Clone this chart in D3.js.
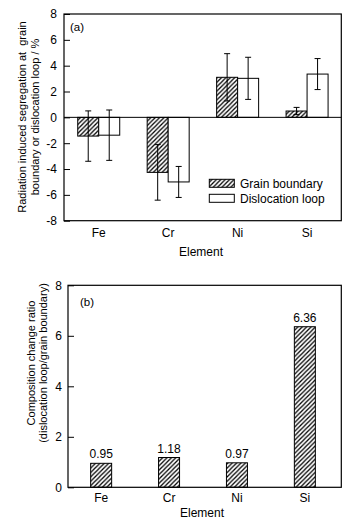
<!DOCTYPE html>
<html><head><meta charset="utf-8">
<script src="https://cdn.jsdelivr.net/npm/d3@7"></script>
<style>body{margin:0;background:#fff}svg{display:block}text{font-family:"Liberation Sans",Arial,sans-serif;fill:#000}</style>
</head><body>
<script>
const elements = ["Fe", "Cr", "Ni", "Si"];
const series = ["Grain boundary", "Dislocation loop"];
const grainBoundary = [-1.45, -4.26, 3.10, 0.49];
const grainBoundaryErr = [1.95, 2.15, 1.83, 0.28];
const dislocationLoop = [-1.38, -5.00, 3.02, 3.35];
const dislocationLoopErr = [1.95, 1.20, 1.63, 1.20];
const ratio = [0.95, 1.18, 0.97, 6.36];
const ratioLabels = ["0.95", "1.18", "0.97", "6.36"];
const ticksA = [-8, -6, -4, -2, 0, 2, 4, 6, 8];
const ticksB = [0, 2, 4, 6, 8];

const W = 359, H = 532;
const FS = 12;
const svg = d3.select("body").append("svg").attr("width", W).attr("height", H);
const defs = svg.append("defs");
const pat = defs.append("pattern").attr("id", "hatch").attr("patternUnits", "userSpaceOnUse")
  .attr("width", 4.4).attr("height", 4.4);
pat.append("rect").attr("width", 4.4).attr("height", 4.4).attr("fill", "#fff");
pat.append("path").attr("d", "M-1,5.4 L5.4,-1 M-1,1 L1,-1 M3.4,5.4 L5.4,3.4")
  .attr("stroke", "#000").attr("stroke-width", 1.25);

const fmt = d => String(d);

// ---------- Panel (a) ----------
const A = {l: 64, r: 341.3, t: 14, b: 220.7};
const xA = d3.scaleBand().domain(elements).range([A.l, A.r + 0.5]);
const bw = 21;
const xS = d3.scaleOrdinal().domain(series).range([-bw, 0]);
const yA = d3.scaleLinear().domain([-8, 8]).range([A.b, A.t]);
const gA = svg.append("g");

const dataA = [];
elements.forEach((e, i) => {
  dataA.push({e, s: series[0], v: grainBoundary[i], err: grainBoundaryErr[i]});
  dataA.push({e, s: series[1], v: dislocationLoop[i], err: dislocationLoopErr[i]});
});
const fillFor = s => s === series[0] ? "url(#hatch)" : "#fff";

gA.selectAll("rect.bar").data(dataA).join("rect").attr("class", "bar")
  .attr("x", d => xA(d.e) + xA.bandwidth() / 2 + xS(d.s))
  .attr("width", bw)
  .attr("y", d => yA(Math.max(0, d.v)))
  .attr("height", d => Math.abs(yA(d.v) - yA(0)))
  .attr("fill", d => fillFor(d.s)).attr("stroke", "#000").attr("stroke-width", 1);

gA.append("line").attr("x1", A.l).attr("x2", A.r).attr("y1", yA(0)).attr("y2", yA(0))
  .attr("stroke", "#000").attr("stroke-width", 1);

const eb = gA.selectAll("g.err").data(dataA).join("g").attr("class", "err")
  .attr("transform", d => `translate(${xA(d.e) + xA.bandwidth() / 2 + xS(d.s) + bw / 2},0)`);
eb.append("line").attr("y1", d => yA(d.v + d.err)).attr("y2", d => yA(d.v - d.err))
  .attr("stroke", "#000").attr("stroke-width", 1);
eb.append("line").attr("x1", -3).attr("x2", 3).attr("y1", d => yA(d.v + d.err)).attr("y2", d => yA(d.v + d.err))
  .attr("stroke", "#000").attr("stroke-width", 1);
eb.append("line").attr("x1", -3).attr("x2", 3).attr("y1", d => yA(d.v - d.err)).attr("y2", d => yA(d.v - d.err))
  .attr("stroke", "#000").attr("stroke-width", 1);

gA.append("rect").attr("x", A.l).attr("y", A.t).attr("width", A.r - A.l).attr("height", A.b - A.t)
  .attr("fill", "none").attr("stroke", "#000").attr("stroke-width", 1.2);

const axA = gA.append("g").attr("transform", `translate(${A.l},0)`)
  .call(d3.axisLeft(yA).tickValues(ticksA).tickFormat(fmt).tickSizeInner(-6).tickSizeOuter(0).tickPadding(7));
axA.select(".domain").remove();
axA.selectAll("line").attr("stroke", "#000");
axA.selectAll("text").attr("font-size", FS).attr("font-family", "Liberation Sans, Arial, sans-serif");

const xaxA = gA.append("g").attr("transform", `translate(0,${A.b})`)
  .call(d3.axisBottom(xA).tickSize(0).tickPadding(8));
xaxA.select(".domain").remove();
xaxA.selectAll("text").attr("font-size", FS).attr("font-family", "Liberation Sans, Arial, sans-serif");

gA.append("text").attr("x", 201).attr("y", 256).attr("text-anchor", "middle").attr("font-size", FS).text("Element");
gA.append("text").attr("x", 70).attr("y", 31).attr("font-size", 11.5).text("(a)");

const ylA = gA.append("text").attr("transform", "translate(0,117) rotate(-90)").attr("text-anchor", "middle").attr("font-size", 11);
ylA.append("tspan").attr("x", 0).attr("y", 26).text("Radiation induced segregation at\u00a0 grain");
ylA.append("tspan").attr("x", 0).attr("y", 39).text("boundary or dislocation loop / %");

const leg = gA.append("g");
series.forEach((s, i) => {
  const y0 = 179.3 + i * 15;
  leg.append("rect").attr("x", 209.3).attr("y", y0).attr("width", 25).attr("height", 8)
    .attr("fill", fillFor(s)).attr("stroke", "#000").attr("stroke-width", 1);
  leg.append("text").attr("x", 240).attr("y", y0 + 8.3).attr("font-size", FS).text(s);
});

// ---------- Panel (b) ----------
const B = {l: 68, r: 341.3, t: 285.3, b: 487.3};
const xB = d3.scaleBand().domain(elements).range([67.2, 338.8]);
const yB = d3.scaleLinear().domain([0, 8]).range([B.b, B.t]);
const gB = svg.append("g");

gB.selectAll("rect.bar").data(ratio).join("rect").attr("class", "bar")
  .attr("x", (d, i) => xB(elements[i]) + xB.bandwidth() / 2 - 10.5)
  .attr("width", 21)
  .attr("y", d => yB(d)).attr("height", d => yB(0) - yB(d))
  .attr("fill", "url(#hatch)").attr("stroke", "#000").attr("stroke-width", 1);

gB.selectAll("text.val").data(ratio).join("text").attr("class", "val")
  .attr("x", (d, i) => xB(elements[i]) + xB.bandwidth() / 2)
  .attr("y", d => yB(d) - 5).attr("text-anchor", "middle").attr("font-size", FS)
  .text((d, i) => ratioLabels[i]);

gB.append("rect").attr("x", B.l).attr("y", B.t).attr("width", B.r - B.l).attr("height", B.b - B.t)
  .attr("fill", "none").attr("stroke", "#000").attr("stroke-width", 1.2);

const axB = gB.append("g").attr("transform", `translate(${B.l},0)`)
  .call(d3.axisLeft(yB).tickValues(ticksB).tickFormat(fmt).tickSizeInner(-6).tickSizeOuter(0).tickPadding(6));
axB.select(".domain").remove();
axB.selectAll("line").attr("stroke", "#000");
axB.selectAll("text").attr("font-size", FS).attr("font-family", "Liberation Sans, Arial, sans-serif");

const xaxB = gB.append("g").attr("transform", `translate(0,${B.b})`)
  .call(d3.axisBottom(xB).tickSize(0).tickPadding(6));
xaxB.select(".domain").remove();
xaxB.selectAll("text").attr("font-size", FS).attr("font-family", "Liberation Sans, Arial, sans-serif");

gB.append("text").attr("x", 202).attr("y", 517).attr("text-anchor", "middle").attr("font-size", FS).text("Element");
gB.append("text").attr("x", 80).attr("y", 306).attr("font-size", 11.5).text("(b)");

const ylB = gB.append("text").attr("transform", "translate(0,363) rotate(-90)").attr("text-anchor", "middle").attr("font-size", 11);
ylB.append("tspan").attr("x", 0).attr("y", 34.5).text("Composition change ratio");
ylB.append("tspan").attr("x", 0).attr("y", 47).text("(dislocation loop/grain boundary)");
</script>
</body></html>
